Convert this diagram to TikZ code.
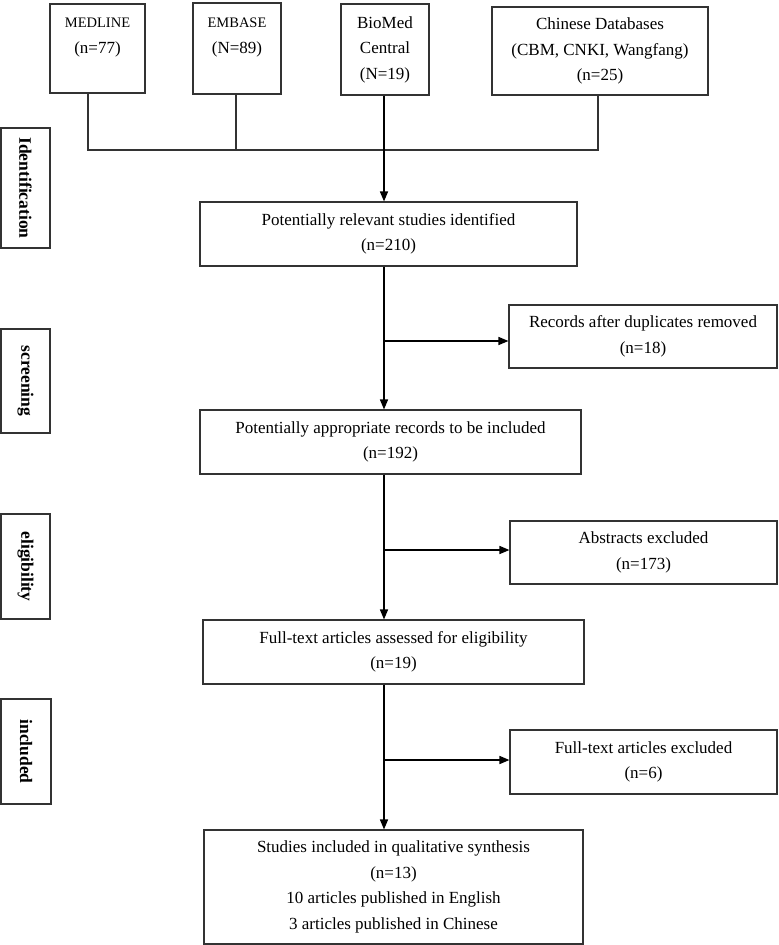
\documentclass[tikz,border=0pt]{standalone}
\usepackage{fontspec}
\setmainfont{Liberation Serif}
\usetikzlibrary{arrows.meta}
\definecolor{edge}{HTML}{333333}
\newcommand{\smallname}[1]{{\fontsize{14.5}{25.5}\selectfont #1}}
\tikzset{
  box/.style={draw=edge, line width=1.1pt, align=center, inner sep=0pt,
    font=\fontsize{17}{25.5}\selectfont, text=black},
  side/.style={draw=edge, line width=1.1pt, align=center, inner sep=0pt,
    rotate=-90, minimum height=49pt,
    font=\fontsize{17.5}{20}\selectfont\bfseries, text=black},
  link/.style={draw=edge, line width=1.2pt},
  arr/.style={draw=black, line width=1.5pt, -{Triangle[width=8pt,length=10pt]}}
}
\begin{document}
\begin{tikzpicture}[x=1pt,y=-1pt]
\useasboundingbox[fill=white] (0,0) rectangle (779,945);
% sources
\node[box, minimum width=95pt, minimum height=89pt] (med) at (97.5,48.5) {\smallname{MEDLINE}\\(n=77)\\~};
\node[box, minimum width=88pt, minimum height=91pt] (emb) at (237,48.5) {\smallname{EMBASE}\\(N=89)\\~};
\node[box, minimum width=88pt, minimum height=91pt] (bio) at (385,49.5) {BioMed\\Central\\(N=19)};
\node[box, minimum width=216pt, minimum height=88pt] (chn) at (600,51) {Chinese Databases\\(CBM, CNKI, Wangfang)\\(n=25)};
% stage labels
\node[side, minimum width=120pt] (ident) at (25.5,188) {Identification};
\node[side, minimum width=104pt] (scr) at (25.5,381) {screening};
\node[side, minimum width=105pt] (eli) at (25.5,566.5) {eligibility};
\node[side, minimum width=105pt, minimum height=50pt] (inc) at (26,751.5) {included};
% main flow
\node[box, minimum width=377pt, minimum height=64pt] (b1) at (388.5,234) {Potentially relevant studies identified\\(n=210)};
\node[box, minimum width=268pt, minimum height=63pt] (rec) at (643,336.5) {Records after duplicates removed\\(n=18)};
\node[box, minimum width=381pt, minimum height=64pt] (b2) at (390.5,442) {Potentially appropriate records to be included\\(n=192)};
\node[box, minimum width=267pt, minimum height=63pt] (abs) at (643.5,552.5) {Abstracts excluded\\(n=173)};
\node[box, minimum width=381pt, minimum height=64pt] (b3) at (393.5,652) {Full-text articles assessed for eligibility\\(n=19)};
\node[box, minimum width=267pt, minimum height=64pt] (fte) at (643.5,762) {Full-text articles excluded\\(n=6)};
\node[box, minimum width=379pt, minimum height=114pt] (b4) at (393.5,887) {Studies included in qualitative synthesis\\(n=13)\\10 articles published in English\\3 articles published in Chinese};
% trunk coordinates
\coordinate (t0) at (384,150);
\coordinate (j1) at (384,341);
\coordinate (j2) at (384,550);
\coordinate (j3) at (384,760);
% merging of sources
\draw[link] (med.south -| 88,0) -- (88,150) -- (598,150) -- (chn.south -| 598,0);
\draw[link] (emb.south -| 236,0) -- (236,150);
\draw[arr] (bio.south -| t0) -- (b1.north -| t0);
% trunk
\draw[arr] (b1.south -| t0) -- (b2.north -| t0);
\draw[arr] (b2.south -| t0) -- (b3.north -| t0);
\draw[arr] (b3.south -| t0) -- (b4.north -| t0);
% exclusions
\draw[arr] (j1) -- (j1 -| rec.west);
\draw[arr] (j2) -- (j2 -| abs.west);
\draw[arr] (j3) -- (j3 -| fte.west);
\end{tikzpicture}
\end{document}
